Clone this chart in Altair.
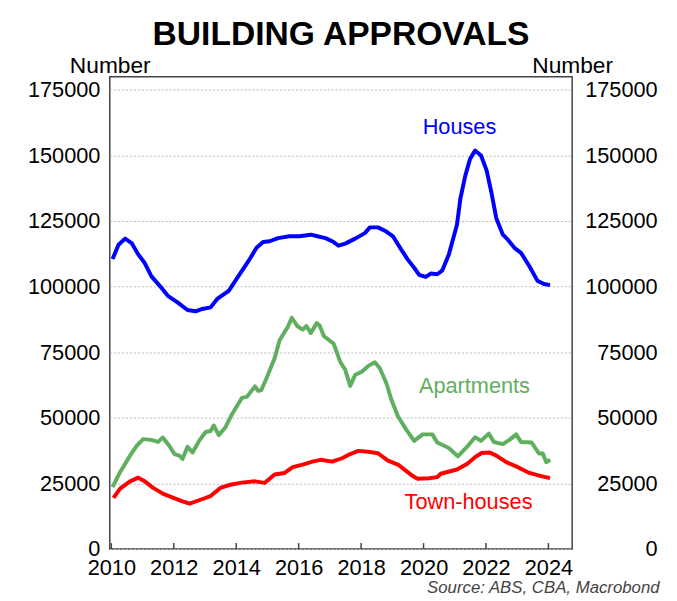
import altair as alt
import pandas as pd

FONT = "Liberation Sans"

# ---- data (values in thousands of dwellings) ----
house_years = [2010.04, 2010.23, 2010.44, 2010.65, 2010.86, 2011.07, 2011.28, 2011.55, 2011.81,
               2012.12, 2012.44, 2012.70, 2012.91, 2013.18, 2013.39, 2013.76, 2014.07, 2014.39,
               2014.65, 2014.86, 2015.07, 2015.34, 2015.70, 2016.02, 2016.39, 2016.60, 2016.86,
               2017.12, 2017.28, 2017.49, 2017.81, 2018.12, 2018.28, 2018.54, 2018.81, 2019.02,
               2019.28, 2019.49, 2019.70, 2019.86, 2020.07, 2020.23, 2020.44, 2020.60, 2020.81,
               2020.97, 2021.07, 2021.18, 2021.34, 2021.49, 2021.65, 2021.84, 2022.02, 2022.18,
               2022.33, 2022.54, 2022.70, 2022.91, 2023.12, 2023.39, 2023.65, 2023.86, 2024.05]
house_values = [110.5, 116.0, 118.3, 116.6, 112.3, 109.0, 104.0, 100.3, 96.5,
                94.0, 91.1, 90.6, 91.5, 92.1, 95.3, 98.4, 104.0, 109.7,
                114.8, 117.0, 117.3, 118.5, 119.2, 119.2, 119.8, 119.2, 118.5,
                117.0, 115.6, 116.4, 118.3, 120.4, 122.6, 122.6, 121.0, 119.2,
                114.2, 110.4, 107.2, 104.5, 103.7, 105.0, 104.7, 106.2, 112.3,
                119.2, 123.6, 133.6, 142.4, 148.7, 151.9, 150.0, 144.3, 135.5,
                126.1, 119.8, 117.9, 114.8, 112.9, 107.8, 102.2, 101.0, 100.6]

apt_years = [2010.04, 2010.28, 2010.60, 2010.81, 2011.02, 2011.28, 2011.49, 2011.65, 2011.86,
             2012.02, 2012.18, 2012.28, 2012.44, 2012.60, 2012.81, 2013.02, 2013.18, 2013.28,
             2013.44, 2013.65, 2013.86, 2014.18, 2014.34, 2014.60, 2014.70, 2014.80, 2014.97,
             2015.23, 2015.39, 2015.55, 2015.65, 2015.78, 2015.97, 2016.13, 2016.25, 2016.39,
             2016.58, 2016.67, 2016.81, 2017.12, 2017.33, 2017.49, 2017.65, 2017.81, 2018.02,
             2018.23, 2018.44, 2018.60, 2018.81, 2018.97, 2019.18, 2019.44, 2019.70, 2019.97,
             2020.28, 2020.44, 2020.81, 2021.10, 2021.39, 2021.65, 2021.84, 2022.09, 2022.25,
             2022.54, 2022.75, 2022.97, 2023.12, 2023.46, 2023.70, 2023.82, 2023.93, 2024.06]
apt_values = [23.6, 29.3, 35.6, 39.3, 41.9, 41.6, 40.8, 42.5, 39.3,
              36.2, 35.6, 34.3, 39.0, 36.8, 41.2, 44.6, 45.0, 47.1,
              43.4, 46.3, 51.3, 57.6, 58.0, 62.0, 60.3, 60.5, 65.1,
              72.7, 79.6, 82.7, 84.6, 88.1, 84.8, 83.6, 85.0, 82.3,
              86.1, 85.2, 81.1, 78.3, 71.4, 68.3, 62.2, 66.4, 67.6,
              69.8, 71.2, 68.9, 63.2, 56.9, 50.6, 45.6, 41.2, 43.7,
              43.7, 40.6, 38.5, 35.3, 38.9, 42.6, 41.2, 44.0, 40.8,
              40.0, 41.6, 43.7, 40.8, 40.6, 36.4, 36.4, 33.1, 34.0]

town_years = [2010.07, 2010.28, 2010.60, 2010.86, 2011.07, 2011.34, 2011.65, 2011.97, 2012.28,
              2012.51, 2012.81, 2013.18, 2013.49, 2013.81, 2014.18, 2014.60, 2014.91, 2015.23,
              2015.55, 2015.81, 2016.13, 2016.44, 2016.70, 2017.07, 2017.39, 2017.65, 2017.91,
              2018.23, 2018.54, 2018.86, 2019.18, 2019.49, 2019.68, 2019.81, 2020.18, 2020.44,
              2020.55, 2021.07, 2021.39, 2021.65, 2021.86, 2022.12, 2022.33, 2022.65, 2023.02,
              2023.39, 2023.70, 2024.05]
town_values = [19.5, 23.0, 25.8, 27.2, 25.8, 23.3, 21.1, 19.6, 18.2,
               17.3, 18.6, 20.2, 23.3, 24.5, 25.3, 25.8, 25.2, 28.4,
               29.0, 31.2, 32.2, 33.3, 34.0, 33.3, 34.6, 36.2, 37.4,
               37.1, 36.5, 33.7, 32.2, 29.3, 27.6, 26.8, 27.0, 27.4,
               28.7, 30.3, 32.4, 35.0, 36.6, 36.8, 35.6, 33.1, 31.2,
               29.0, 28.0, 27.0]

series_names = ["Houses", "Apartments", "Town-houses"]
series_colors = ["#0000FF", "#5FAF5F", "#FF0000"]

label_years = [2021.15, 2021.63, 2021.44]
label_values = [161.0, 62.2, 17.8]

x_ticks = [2010, 2012, 2014, 2016, 2018, 2020, 2022, 2024]
y_ticks = [0, 25000, 50000, 75000, 100000, 125000, 150000, 175000]

# ---- tables ----
frames = []
for name, ys, vs in [("Houses", house_years, house_values),
                     ("Apartments", apt_years, apt_values),
                     ("Town-houses", town_years, town_values)]:
    frames.append(pd.DataFrame({"series": name, "year": ys, "value": [v * 1000 for v in vs]}))
lines_df = pd.concat(frames, ignore_index=True)

labels_df = pd.DataFrame({"series": series_names, "year": label_years,
                          "value": [v * 1000 for v in label_values]})
ticks_df = pd.DataFrame({"year": x_ticks})

W, H = 468, 478
x_scale = alt.Scale(domain=[2009.95, 2024.76], nice=False, zero=False)
y_dom = [0, 180000]
color_scale = alt.Scale(domain=series_names, range=series_colors)

x_axis = alt.Axis(values=x_ticks, format="d", grid=False, domain=False, ticks=False,
                  labelFont=FONT, labelFontSize=22, labelColor="black", labelPadding=9,
                  labelFlush=False, labelOverlap=False,
                  title="Source: ABS, CBA, Macrobond", titleFont=FONT, titleFontSize=17,
                  titleFontStyle="italic", titleFontWeight="normal", titleColor="#444444",
                  titleX=556, titleY=44, titleAlign="right", titleBaseline="alphabetic",
                  titleAngle=0)

y_left = alt.Axis(orient="left", values=y_ticks, format="d", grid=True, gridDash=[2, 2],
                  gridColor="#bbbbbb", gridWidth=1, domain=False, ticks=False,
                  labelFont=FONT, labelFontSize=22, labelColor="black", labelPadding=10,
                  labelOverlap=False,
                  title="Number", titleFont=FONT, titleFontSize=23, titleFontWeight="normal",
                  titleColor="black", titleAngle=0, titleX=0, titleY=-4, titleAlign="center",
                  titleBaseline="alphabetic")

y_right = alt.Axis(orient="right", values=y_ticks, format="d", grid=False, domain=False,
                   ticks=False, labelFont=FONT, labelFontSize=22, labelColor="black",
                   labelPadding=86, labelAlign="right", labelOverlap=False,
                   title="Number", titleFont=FONT, titleFontSize=23, titleFontWeight="normal",
                   titleColor="black", titleAngle=0, titleX=0, titleY=-4, titleAlign="center",
                   titleBaseline="alphabetic")

lines = alt.Chart(lines_df).mark_line(strokeWidth=4, strokeJoin="round").encode(
    x=alt.X("year:Q", scale=x_scale, axis=x_axis),
    y=alt.Y("value:Q", scale=alt.Scale(domain=y_dom, nice=False), axis=y_left),
    color=alt.Color("series:N", scale=color_scale, legend=None),
    detail="series:N",
)

labels = alt.Chart(labels_df).mark_text(font=FONT, fontSize=22, align="center",
                                         baseline="middle").encode(
    x=alt.X("year:Q", scale=x_scale),
    y=alt.Y("value:Q", scale=alt.Scale(domain=y_dom, nice=False), axis=y_right),
    text="series:N",
    color=alt.Color("series:N", scale=color_scale, legend=None),
)

ticks = alt.Chart(ticks_df).mark_rule(color="#444444", strokeWidth=1.5).encode(
    x=alt.X("year:Q", scale=x_scale),
    y=alt.value(H),
    y2=alt.value(H - 6),
)

chart = alt.layer(lines, ticks, labels).resolve_scale(y="independent").properties(
    width=W, height=H,
    padding={"left": 103, "top": 66, "right": 98, "bottom": 48},
    autosize=alt.AutoSizeParams(type="none"),
    title=alt.TitleParams("BUILDING APPROVALS", font=FONT, fontSize=34, fontWeight="bold",
                          color="black", anchor="middle", frame="group", offset=3),
).configure(background="white").configure_view(stroke="#444444", strokeWidth=1.5)

chart.save("out.html", embed_options={"renderer": "svg", "actions": False})
